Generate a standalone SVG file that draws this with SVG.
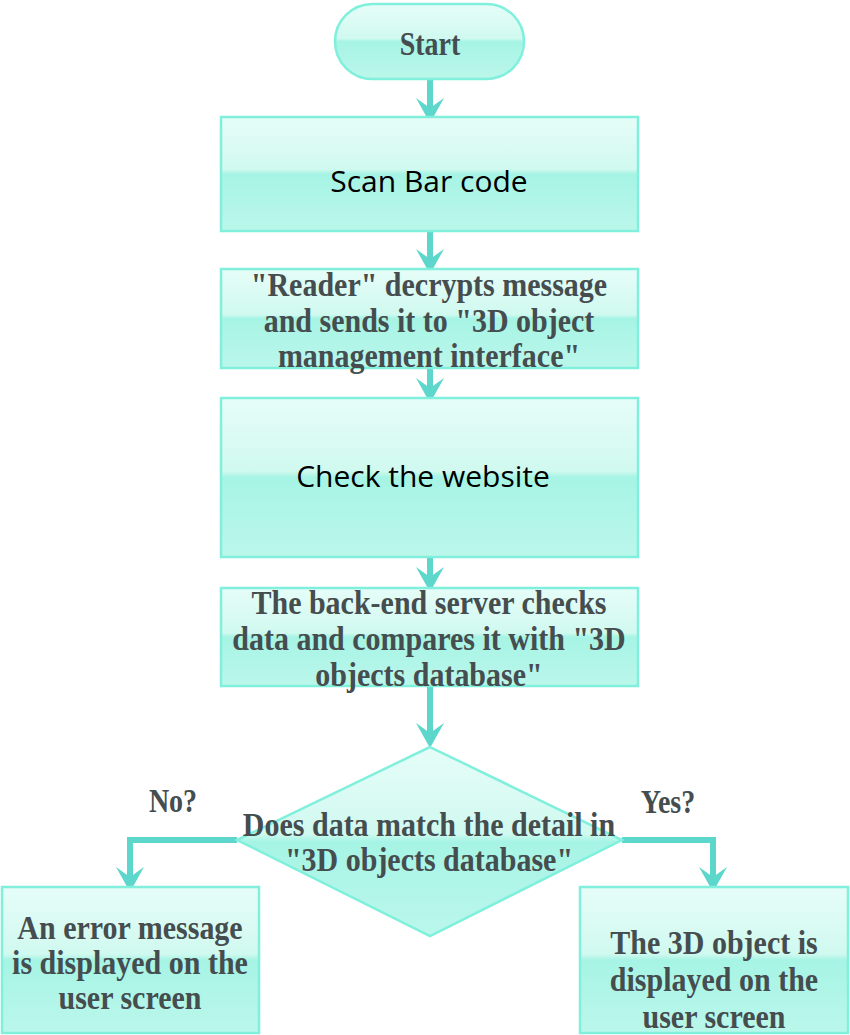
<svg xmlns="http://www.w3.org/2000/svg" width="850" height="1035" viewBox="0 0 850 1035">
<defs>
<linearGradient id="g" x1="0" y1="0" x2="0" y2="1">
<stop offset="0" stop-color="#e6fdf8"/>
<stop offset="0.46" stop-color="#d0f9ef"/>
<stop offset="0.5" stop-color="#a6f4e5"/>
<stop offset="1" stop-color="#bbf7eb"/>
</linearGradient>
<marker id="ah" viewBox="0 0 25 28" refX="10" refY="14" markerWidth="25" markerHeight="28" markerUnits="userSpaceOnUse" orient="auto">
<path d="M0,0 L25,14 L0,28 L10,14 Z" fill="#5dd6cb"/>
</marker>
<style>
.n{fill:url(#g);stroke:#80f0dc;stroke-width:2.5}
.b{font-family:"Liberation Serif","Times New Roman",serif;font-weight:bold;font-size:30px;fill:#454d4f;text-anchor:middle;transform-box:fill-box;transform-origin:center;transform:scaleY(1.1)}
.t{font-size:28px;transform:scaleY(1.2)}
.s{font-family:"Open Sans","Noto Sans",sans-serif;font-size:30px;fill:#000;text-anchor:middle}
.c{fill:none;stroke:#5dd6cb;stroke-width:6;marker-end:url(#ah)}
</style>
</defs>
<g id="connectors">
<line class="c" x1="430" y1="79" x2="430" y2="108"/>
<line class="c" x1="430" y1="231" x2="430" y2="259"/>
<line class="c" x1="430" y1="368" x2="430" y2="388"/>
<line class="c" x1="430" y1="557" x2="430" y2="577"/>
<line class="c" x1="430" y1="686" x2="430" y2="733"/>
<polyline class="c" points="237,840 130,840 130,877"/>
<polyline class="c" points="622,840 713,840 713,877"/>
</g>
<g id="start">
<rect class="n" x="335" y="4" width="189" height="75" rx="37.5"/>
<text class="b t" x="430" y="53">Start</text>
</g>
<g id="scan">
<rect class="n" x="221" y="117" width="417" height="114"/>
<text class="s" x="429" y="192">Scan Bar code</text>
</g>
<g id="reader">
<rect class="n" x="221" y="269" width="417" height="99"/>
<text class="b" x="429" y="295">"Reader" decrypts message</text>
<text class="b" x="429" y="331">and sends it to "3D object</text>
<text class="b" x="429" y="366">management interface"</text>
</g>
<g id="check">
<rect class="n" x="221" y="398" width="417" height="159"/>
<text class="s" x="423" y="487">Check the website</text>
</g>
<g id="server">
<rect class="n" x="221" y="588" width="417" height="98"/>
<text class="b" x="429" y="613">The back-end server checks</text>
<text class="b" x="429" y="649">data and compares it with "3D</text>
<text class="b" x="429" y="685">objects database"</text>
</g>
<g id="decision">
<polygon class="n" points="430,747 622,840 430,936 237,840"/>
<text class="b" x="429" y="835">Does data match the detail in</text>
<text class="b" x="429" y="870">"3D objects database"</text>
</g>
<g id="labels">
<text class="b t" x="173" y="810">No?</text>
<text class="b t" x="668" y="811">Yes?</text>
</g>
<g id="error">
<rect class="n" x="2" y="887" width="257" height="146"/>
<text class="b" x="130" y="938">An error message</text>
<text class="b" x="130" y="973">is displayed on the</text>
<text class="b" x="130" y="1008">user screen</text>
</g>
<g id="success">
<rect class="n" x="580" y="887" width="268" height="146"/>
<text class="b" x="714" y="953">The 3D object is</text>
<text class="b" x="714" y="990">displayed on the</text>
<text class="b" x="714" y="1027">user screen</text>
</g>
</svg>
